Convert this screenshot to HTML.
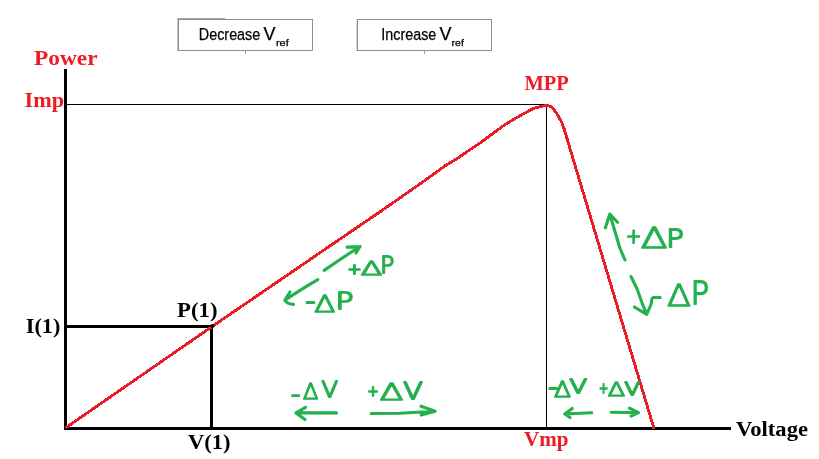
<!DOCTYPE html>
<html>
<head>
<meta charset="utf-8">
<title>P&amp;O MPPT Power-Voltage curve</title>
<style>
html,body{margin:0;padding:0;background:#fff;}
body{width:819px;height:459px;overflow:hidden;position:relative;}
svg{position:absolute;left:0;top:0;display:block;}
.lbl{font-family:"Liberation Serif","DejaVu Serif",serif;font-weight:bold;font-size:20.4px;}
.red{fill:#ed1c24;}
.blk{fill:#000;}
.btn{font-family:"Liberation Sans","DejaVu Sans",sans-serif;fill:#000;stroke:#000;stroke-width:0.25;}
.g{stroke:#22b14c;stroke-width:3.1;fill:none;stroke-linecap:round;stroke-linejoin:round;}
.hw{font-family:"DejaVu Sans Light","DejaVu Sans","Liberation Sans",sans-serif;font-weight:200;fill:#22b14c;stroke:#22b14c;stroke-width:1.8;stroke-linejoin:round;stroke-linecap:round;}
</style>
</head>
<body>
<svg width="819" height="459" viewBox="0 0 819 459">
  <rect x="0" y="0" width="819" height="459" fill="#ffffff"/>

  <!-- buttons -->
  <g shape-rendering="crispEdges">
    <rect x="178.5" y="19.5" width="134" height="31" fill="#fff" stroke="#8e8e8e" stroke-width="1"/>
    <rect x="357.5" y="19.5" width="134" height="31" fill="#fff" stroke="#8e8e8e" stroke-width="1"/>
    <line x1="177" y1="18.5" x2="225" y2="18.5" stroke="#a8a8a8" stroke-width="1"/>
    <line x1="177.5" y1="18" x2="177.5" y2="51" stroke="#c4c4c4" stroke-width="1"/>
    <line x1="356.5" y1="19" x2="356.5" y2="51" stroke="#d8d8d8" stroke-width="1"/>
    <line x1="245.5" y1="51" x2="245.5" y2="54" stroke="#a0a0a0" stroke-width="1"/>
    <line x1="424.5" y1="51" x2="424.5" y2="54" stroke="#a0a0a0" stroke-width="1"/>
  </g>
  <text class="btn" x="198.8" y="39.7" font-size="17.1" textLength="61.5" lengthAdjust="spacingAndGlyphs">Decrease</text>
  <text class="btn" x="263.6" y="39.7" font-size="17.6" textLength="12" lengthAdjust="spacingAndGlyphs">V</text>
  <text class="btn" stroke-width="0" x="275.9" y="45.7" font-size="9" textLength="12.8" lengthAdjust="spacingAndGlyphs">ref</text>
  <text class="btn" x="381.3" y="39.7" font-size="17.1" textLength="55" lengthAdjust="spacingAndGlyphs">Increase</text>
  <text class="btn" x="439.6" y="39.7" font-size="17.6" textLength="12" lengthAdjust="spacingAndGlyphs">V</text>
  <text class="btn" stroke-width="0" x="451.6" y="45.7" font-size="9" textLength="12.3" lengthAdjust="spacingAndGlyphs">ref</text>

  <!-- thin guide lines -->
  <g shape-rendering="crispEdges" stroke="#000" stroke-width="1">
    <line x1="66" y1="104.5" x2="547" y2="104.5"/>
    <line x1="546.5" y1="104" x2="546.5" y2="427"/>
  </g>

  <!-- axes and thick lines -->
  <g shape-rendering="crispEdges" fill="#000">
    <rect x="64" y="69" width="3" height="361"/>
    <rect x="64" y="427" width="667" height="3"/>
    <rect x="64" y="325" width="149" height="3"/>
    <rect x="210" y="325" width="3" height="103"/>
  </g>

  <!-- red curve -->
  <path d="M66.7 427.1 L213 325.9 L290 273.3 L320 252.7 L380 211.8 L410 190.9 L430 176.8 L445 165.9 L458 158 L470 149.7 L480 143.1 L504.6 124.8 L522.3 114.4 L532.7 108.9 C536 107.6 538.5 106.9 540.6 106.5 C543.5 105.9 546 105.5 548.2 105.5 C550.5 106 552 107 554 109.7 C556.5 113 558 115.5 560 119.2 C561.5 122 562.6 124 563.7 127.5 L653.8 428"
        fill="none" stroke="#ed1c24" stroke-width="2.9" stroke-linejoin="round" stroke-linecap="round" shape-rendering="crispEdges"/>

  <circle cx="212.4" cy="326" r="2.1" fill="#000"/>

  <!-- labels -->
  <text class="lbl red" x="34" y="64.7" textLength="63.5" lengthAdjust="spacingAndGlyphs">Power</text>
  <text class="lbl red" x="24.5" y="107.4" textLength="39.5" lengthAdjust="spacingAndGlyphs">Imp</text>
  <text class="lbl red" x="524.4" y="89.8" textLength="44.3" lengthAdjust="spacingAndGlyphs">MPP</text>
  <text class="lbl blk" x="25.8" y="333.2" textLength="34.6" lengthAdjust="spacingAndGlyphs">I(1)</text>
  <text class="lbl blk" x="177" y="316.5" textLength="40.5" lengthAdjust="spacingAndGlyphs">P(1)</text>
  <text class="lbl blk" x="188" y="448.6" textLength="42.5" lengthAdjust="spacingAndGlyphs">V(1)</text>
  <text class="lbl red" x="524" y="446" textLength="44.5" lengthAdjust="spacingAndGlyphs">Vmp</text>
  <text class="lbl blk" x="736" y="435.7" textLength="72" lengthAdjust="spacingAndGlyphs">Voltage</text>

  <!-- green hand-drawn arrows -->
  <g class="g">
    <path d="M324.2 270.4 L335 263 Q348 254 360 246.5 M347 247.1 L360 246.5 L356 253"/>
    <path d="M317.8 279.6 Q304 287.5 284.8 300.2 M290 292 L284.8 300.4 Q288 304.5 293.5 304.4"/>
    <path d="M336.5 412.9 L296 412.9 M305.5 407.3 L296 412.9 L305 419.6"/>
    <path d="M371.3 413.5 L400 413.2 L435.1 411.3 M421 406.2 L435.1 411.3 L421.3 415"/>
    <path d="M625 260 L620 248.5 L609.8 214.1 M605.3 227.9 L609.8 214.1 L617.5 222.3"/>
    <path d="M631 276.5 L637.2 289.2 L641.9 302.6 L646.7 314.4 M634.4 307 L646.7 314.4 L651 304.5 L652 298.5"/>
    <path d="M591.7 412.8 L564.8 414 M572.3 408.5 L564.8 414 L570 417.6"/>
    <path d="M611.2 412.3 L638.5 412.7 M629.4 408.2 L638.5 412.7 L631 416.2"/>
  </g>

  <!-- green hand-written annotations -->
  <text class="hw"><tspan x="347.64" y="273.70" font-size="14.51" textLength="13.92" lengthAdjust="spacingAndGlyphs" stroke-width="1.8">+</tspan><tspan x="360.70" y="274.55" font-size="19.75" textLength="21.49" lengthAdjust="spacingAndGlyphs" stroke-width="1.3">Δ</tspan><tspan x="380.38" y="273.20" font-size="22.22" textLength="13.95" lengthAdjust="spacingAndGlyphs" stroke-width="1.8">P</tspan></text>
  <text class="hw"><tspan x="305.29" y="309.76" font-size="28.88" textLength="10.42" lengthAdjust="spacingAndGlyphs" stroke-width="1.8">-</tspan><tspan x="314.21" y="311.85" font-size="23.73" textLength="21.16" lengthAdjust="spacingAndGlyphs" stroke-width="1.3">Δ</tspan><tspan x="335.56" y="309.30" font-size="23.59" textLength="17.97" lengthAdjust="spacingAndGlyphs" stroke-width="1.8">P</tspan></text>
  <text class="hw"><tspan x="290.94" y="403.33" font-size="25.84" textLength="9.32" lengthAdjust="spacingAndGlyphs" stroke-width="1.8">-</tspan><tspan x="302.97" y="398.75" font-size="20.71" textLength="15.32" lengthAdjust="spacingAndGlyphs" stroke-width="1.3">Δ</tspan><tspan x="321.47" y="396.90" font-size="22.08" textLength="16.42" lengthAdjust="spacingAndGlyphs" stroke-width="1.8">V</tspan></text>
  <text class="hw"><tspan x="367.40" y="396.10" font-size="14.04" textLength="11.11" lengthAdjust="spacingAndGlyphs" stroke-width="1.8">+</tspan><tspan x="379.70" y="400.05" font-size="23.32" textLength="23.70" lengthAdjust="spacingAndGlyphs" stroke-width="1.3">Δ</tspan><tspan x="403.34" y="398.50" font-size="22.63" textLength="19.51" lengthAdjust="spacingAndGlyphs" stroke-width="1.8">V</tspan></text>
  <text class="hw"><tspan x="625.97" y="242.50" font-size="19.14" textLength="15.26" lengthAdjust="spacingAndGlyphs" stroke-width="1.8">+</tspan><tspan x="640.66" y="248.05" font-size="27.98" textLength="26.90" lengthAdjust="spacingAndGlyphs" stroke-width="1.3">Δ</tspan><tspan x="666.35" y="246.60" font-size="25.65" textLength="17.54" lengthAdjust="spacingAndGlyphs" stroke-width="1.8">P</tspan></text>
  <text class="hw"><tspan x="651.39" y="305.41" font-size="28.88" textLength="10.42" lengthAdjust="spacingAndGlyphs" stroke-width="1.8">-</tspan><tspan x="666.99" y="305.95" font-size="30.45" textLength="24.03" lengthAdjust="spacingAndGlyphs" stroke-width="1.3">Δ</tspan><tspan x="690.70" y="304.10" font-size="31.28" textLength="18.26" lengthAdjust="spacingAndGlyphs" stroke-width="1.8">P</tspan></text>
  <text class="hw"><tspan x="547.89" y="395.81" font-size="28.88" textLength="10.42" lengthAdjust="spacingAndGlyphs" stroke-width="1.8">-</tspan><tspan x="554.10" y="396.95" font-size="20.71" textLength="16.98" lengthAdjust="spacingAndGlyphs" stroke-width="1.3">Δ</tspan><tspan x="569.52" y="393.00" font-size="19.20" textLength="17.53" lengthAdjust="spacingAndGlyphs" stroke-width="1.8">V</tspan></text>
  <text class="hw"><tspan x="599.05" y="392.80" font-size="13.24" textLength="9.10" lengthAdjust="spacingAndGlyphs" stroke-width="1.8">+</tspan><tspan x="607.78" y="395.75" font-size="19.07" textLength="17.42" lengthAdjust="spacingAndGlyphs" stroke-width="1.3">Δ</tspan><tspan x="624.62" y="395.10" font-size="17.83" textLength="15.43" lengthAdjust="spacingAndGlyphs" stroke-width="1.8">V</tspan></text>
</svg>
</body>
</html>
